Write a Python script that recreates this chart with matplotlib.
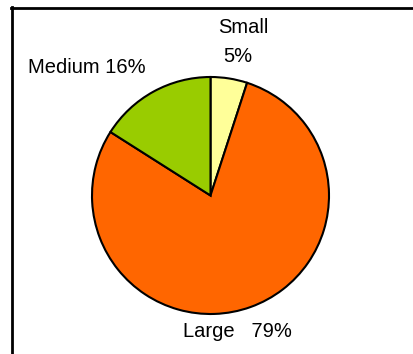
import matplotlib
matplotlib.use("Agg")
import matplotlib.pyplot as plt
from matplotlib.lines import Line2D

# Pie data: clockwise from 12 o'clock
categories = ["Small", "Large", "Medium"]
shares = [5, 79, 16]
colors = ["#FFFF99", "#FF6600", "#99CC00"]

W, H = 414, 354
fig = plt.figure(figsize=(W / 100, H / 100), dpi=100)
fig.patch.set_facecolor("white")

# Axes in pixel units (y measured upward)
ax = fig.add_axes([0, 0, 1, 1])
ax.set_xlim(0, W)
ax.set_ylim(0, H)
ax.set_aspect("equal")
ax.axis("off")

cx, cy, r = 210.5, H - 195.5, 118.5
ax.pie(shares, colors=colors, startangle=90, counterclock=False,
       center=(cx, cy), radius=r, frame=True,
       wedgeprops=dict(edgecolor="black", linewidth=1.5))
ax.set_xlim(0, W)
ax.set_ylim(0, H)
ax.axis("off")

font = dict(family="Liberation Sans", size=14.5, color="black")
lbl = dict(zip(categories, shares))
ax.text(243, H - 33, "Small", ha="center", va="baseline", **font)
ax.text(238, H - 62, f"{lbl['Small']}%", ha="center", va="baseline", **font)
ax.text(87, H - 73, f"Medium {lbl['Medium']}%", ha="center", va="baseline", **font)
ax.text(237.5, H - 337, f"Large   {lbl['Large']}%", ha="center", va="baseline", **font)

# Chart frame: top and left edges
fig.add_artist(Line2D([11 / W, 1.0], [1 - 7.5 / H, 1 - 7.5 / H],
                      transform=fig.transFigure, color="black", linewidth=2.0))
fig.add_artist(Line2D([12 / W, 12 / W], [1 - 6.5 / H, 0.0],
                      transform=fig.transFigure, color="black", linewidth=2.0))

fig.savefig("out.png", dpi=100)
